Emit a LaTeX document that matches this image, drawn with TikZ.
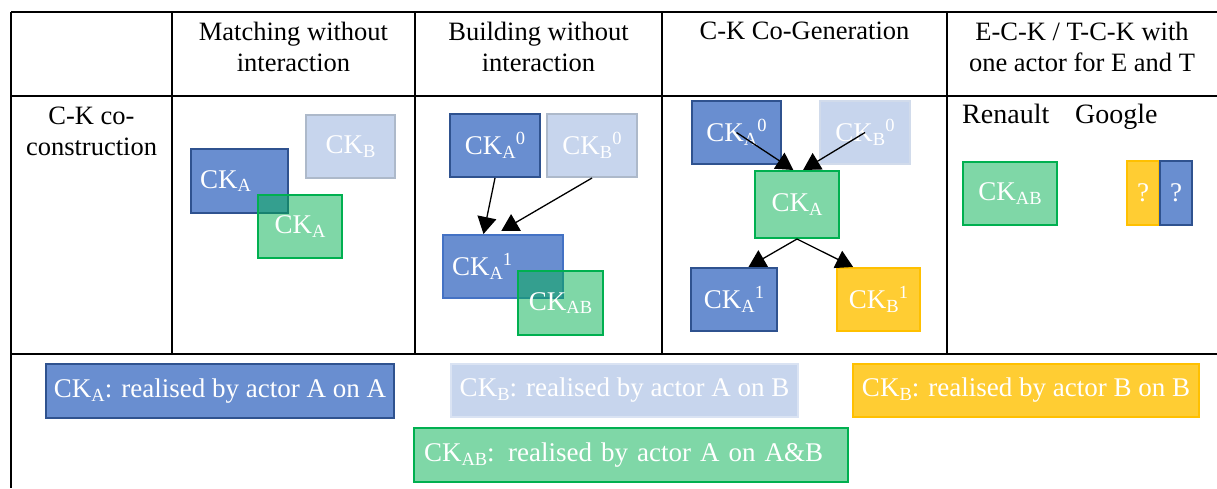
\documentclass[tikz,border=0pt]{standalone}
\usepackage{fontspec}
\setmainfont{Liberation Serif}
\usepackage{xcolor}
\usetikzlibrary{arrows.meta}

\definecolor{ckblue}{HTML}{698ED0}
\definecolor{ckbluedk}{HTML}{2F528F}
\definecolor{ckbluemid}{HTML}{4472C4}
\definecolor{cklight}{HTML}{C7D5ED}
\definecolor{cklightdk}{HTML}{ADB9CA}
\definecolor{cklightbd}{HTML}{DAE3F3}
\definecolor{ckgreen}{HTML}{00B050}
\definecolor{ckyellow}{HTML}{FFCD33}
\definecolor{ckyellowdk}{HTML}{FFC000}

\newcommand{\sbx}[1]{\raisebox{-0.14em}{\fontsize{18.5}{18.5}\selectfont #1}}
\newcommand{\spx}[1]{\raisebox{0.38em}{\fontsize{18.5}{18.5}\selectfont #1}}

\begin{document}
\begin{tikzpicture}[x=1pt,y=-1pt,
  txt/.style={font=\fontsize{26.5}{31}\selectfont,align=center,inner sep=0pt},
  ck/.style={draw,line width=2pt,text=white,font=\fontsize{27}{31}\selectfont,
    inner sep=0pt,anchor=north west},
  wh/.style 2 args={minimum width=#1,minimum height=#2},
  ckA/.style={ck,fill=ckblue,draw=ckbluedk},
  ckB/.style={ck,fill=cklight,draw=cklightdk},
  ckG/.style={ck,fill=ckgreen,fill opacity=0.5,text opacity=1,draw=ckgreen,draw opacity=1},
  ckY/.style={ck,fill=ckyellow,draw=ckyellowdk},
  arr/.style={-{Triangle[length=17pt,width=19pt]},line width=1.3pt}]
  \useasboundingbox (0,0) rectangle (1217,488);

  % table
  \draw[line width=2pt] (11,12) -- (1217,12);
  \draw[line width=2pt] (11,96) -- (1217,96);
  \draw[line width=2pt] (11,354) -- (1217,354);
  \draw[line width=2pt] (11,12) -- (11,488);
  \foreach \x in {172,415,662,947}
    \draw[line width=2pt] (\x,12) -- (\x,354);

  % headers
  \node[txt,anchor=north] (h1) at (293.5,22) {Matching without\\interaction};
  \node[txt,anchor=north] (h2) at (538.5,22) {Building without\\interaction};
  \node[txt,anchor=north] (h3) at (804.5,22) {C-K Co-Generation};
  \node[txt,anchor=north] (h4) at (1082,22) {E-C-K / T-C-K with\\one actor for E and T};
  \node[txt,anchor=north] (row) at (91.5,107) {C-K co-\\construction};

  % matching without interaction
  \node[ckA,wh={97}{64},text width=79,align=left,inner xsep=9pt] (mA) at (190,148) {CK\sbx{A}};
  \node[ckB,wh={89}{63}] (mB) at (305,114) {CK\sbx{B}};
  \node[ckG,wh={84}{63}] (mG) at (257,194) {CK\sbx{A}};

  % building without interaction
  \node[ckA,wh={90}{63}] (bA0) at (449,113) {CK\sbx{A}\spx{0}};
  \node[ckB,wh={90}{63}] (bB0) at (546,113) {CK\sbx{B}\spx{0}};
  \node[ckA,draw=ckbluemid,wh={120}{63},text width=102,align=left,inner xsep=9pt] (bA1) at (442,234) {CK\sbx{A}\spx{1}};
  \node[ckG,wh={85}{64}] (bAB) at (517,270) {CK\sbx{AB}};
  \draw[arr] (bA0.south) -- (bA1.121);
  \draw[arr,shorten >=6pt] (bB0.south) -- (bA1.102);

  % C-K co-generation
  \node[ckA,wh={89}{63}] (gA0) at (691,100) {CK\sbx{A}\spx{0}};
  \node[ckB,draw=cklightbd!80!cklightdk,wh={90}{63}] (gB0) at (819,100) {CK\sbx{B}\spx{0}};
  \node[ckG,wh={84}{67}] (gC) at (754,170) {CK\sbx{A}};
  \node[ckA,wh={86}{63}] (gA1) at (690,267) {CK\sbx{A}\spx{1}};
  \node[ckY,wh={83}{63}] (gB1) at (836,267) {CK\sbx{B}\spx{1}};
  \draw[arr] (gA0.center) -- (gC.96);
  \draw[arr] (gB0.center) -- (gC.80);
  \draw[arr] (gC.south) -- (gA1.66);
  \draw[arr] (gC.south) -- (gB1.128);

  % E-C-K / T-C-K
  \node[txt,font=\fontsize{28}{31}\selectfont,anchor=base west] (ren) at (962,123) {Renault};
  \node[txt,font=\fontsize{28}{31}\selectfont,anchor=base west] (goo) at (1075,123) {Google};
  \node[ckG,wh={94}{63}] (eAB) at (962,161) {CK\sbx{AB}};
  \node[ckY,wh={32}{64}] (eY) at (1126,160) {?};
  \node[ckA,wh={32}{64}] (eA) at (1159,160) {?};

  % legend
  \node[ckA,wh={348}{54}] (lA) at (45,363) {CK\sbx{A}: realised by actor A on A};
  \node[ckB,draw=cklightbd,wh={347}{53}] (lB) at (450,363) {CK\sbx{B}: realised by actor A on B};
  \node[ckY,wh={346}{53}] (lY) at (852,363) {CK\sbx{B}: realised by actor B on B};
  \node[ckG,wh={434}{54},text width=414,align=left,inner xsep=10pt] (lAB) at (413,427) {CK\sbx{AB}: realised by actor A on A\&B};
\end{tikzpicture}
\end{document}
